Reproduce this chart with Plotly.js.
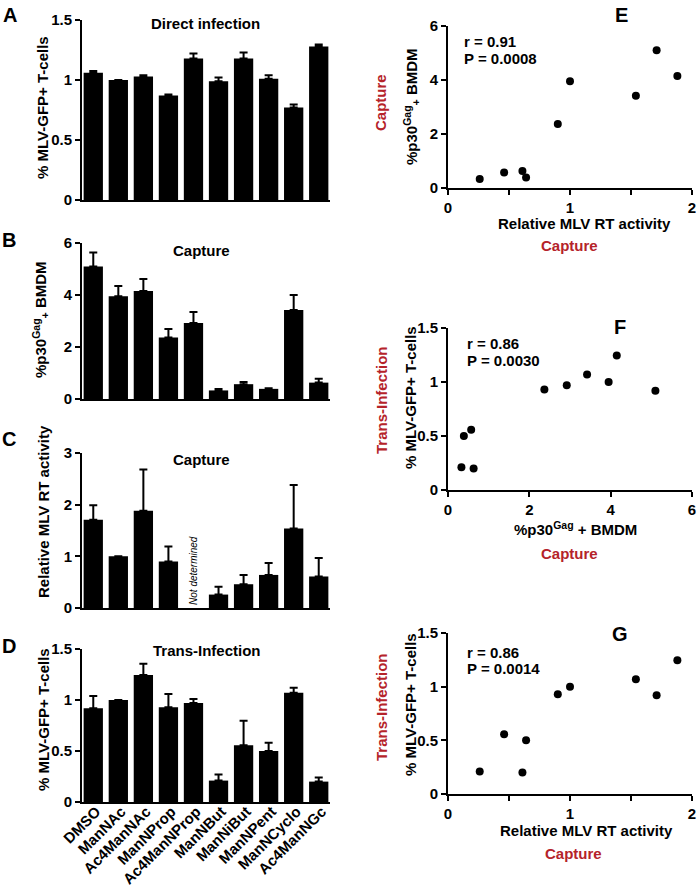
<!DOCTYPE html>
<html>
<head>
<meta charset="utf-8">
<script src="https://cdn.plot.ly/plotly-3.0.1.min.js"></script>
<style>
  html, body { margin: 0; padding: 0; background: #fff; }
  #fig { width: 700px; height: 888px; }
</style>
</head>
<body>
<div id="fig"></div>
<script>
// compuestos (eje x de los paneles A-D)
const categories = ['DMSO', 'ManNAc', 'Ac4ManNAc', 'ManNProp', 'Ac4ManNProp',
                    'ManNBut', 'ManNiBut', 'ManNPent', 'ManNCyclo', 'Ac4ManNGc'];

// A - infeccion directa
const directMean = [1.06, 1.00, 1.03, 0.87, 1.18, 0.99, 1.18, 1.01, 0.77, 1.28];
const directErr  = [0.015, 0, 0.01, 0.01, 0.04, 0.03, 0.05, 0.03, 0.025, 0.015];

// B - captura, %p30Gag+ BMDM
const p30Mean = [5.10, 3.95, 4.15, 2.37, 2.92, 0.33, 0.57, 0.39, 3.42, 0.63];
const p30Err  = [0.53, 0.40, 0.47, 0.32, 0.43, 0.05, 0.08, 0.02, 0.58, 0.15];

// C - captura, actividad RT relativa (Ac4ManNProp no determinado)
const rtMean = [1.71, 1.00, 1.88, 0.90, null, 0.26, 0.46, 0.64, 1.54, 0.61];
const rtErr  = [0.28, 0, 0.80, 0.29, null, 0.15, 0.18, 0.23, 0.84, 0.36];

// D - trans-infeccion
const transMean = [0.92, 1.00, 1.245, 0.93, 0.97, 0.21, 0.557, 0.50, 1.07, 0.20];
const transErr  = [0.12, 0, 0.11, 0.13, 0.04, 0.06, 0.24, 0.08, 0.05, 0.04];

// E-G - correlaciones
const statsE = ['r = 0.91', 'P = 0.0008'];
const statsF = ['r = 0.86', 'P = 0.0030'];
const statsG = ['r = 0.86', 'P = 0.0014'];

const W = 700, H = 888;
const px = x => x / W;
const py = y => 1 - y / H;
const FONT = 'Liberation Sans, Arial, Helvetica, sans-serif';
const RED = '#b5232a';

function barTrace(mean, err, n) {
  return {
    type: 'bar', x: categories, y: mean,
    xaxis: 'x' + n, yaxis: 'y' + n,
    marker: { color: 'black', line: { width: 0 } },
    error_y: {
      type: 'data', symmetric: false, array: err,
      arrayminus: err.map(() => 0),
      color: 'black', thickness: 2, width: 4
    },
    hoverinfo: 'x+y'
  };
}

function dotTrace(xs, ys, n) {
  return {
    type: 'scatter', mode: 'markers', x: xs, y: ys,
    xaxis: 'x' + n, yaxis: 'y' + n,
    marker: { color: 'black', size: 8 },
    cliponaxis: false
  };
}

const tickFont = { family: FONT, size: 15, color: 'black', weight: 'bold' };

function barX(top, bottom, showLabels) {
  return {
    domain: [px(82), px(330)], range: [-0.45, 9.45], type: 'category',
    showline: true, linecolor: 'black', linewidth: 2, ticks: '',
    showgrid: false, zeroline: false, showticklabels: showLabels,
    tickangle: -45, tickfont: tickFont, fixedrange: true
  };
}
function barY(top, bottom, max, vals) {
  return {
    domain: [py(bottom), py(top)], range: [0, max],
    tickvals: vals, ticks: 'outside', ticklen: 5, tickwidth: 2, tickcolor: 'black',
    showline: true, linecolor: 'black', linewidth: 2,
    showgrid: false, zeroline: false, tickfont: tickFont, fixedrange: true
  };
}
function scX(max, vals, text) {
  return {
    domain: [px(448), px(692)], range: [0, max],
    tickvals: vals, ticktext: text, ticks: 'outside', ticklen: 5, tickwidth: 2, tickcolor: 'black',
    showline: true, linecolor: 'black', linewidth: 2,
    showgrid: false, zeroline: false, tickfont: tickFont, fixedrange: true
  };
}

const data = [
  barTrace(directMean, directErr, ''),
  barTrace(p30Mean, p30Err, '2'),
  barTrace(rtMean, rtErr, '3'),
  barTrace(transMean, transErr, '4'),
  dotTrace(rtMean, p30Mean, '5'),
  dotTrace(p30Mean, transMean, '6'),
  dotTrace(rtMean, transMean, '7')
];
data[0].xaxis = 'x'; data[0].yaxis = 'y';

function txt(x, y, text, opts) {
  return Object.assign({
    xref: 'paper', yref: 'paper', x: px(x), y: py(y), text: text,
    showarrow: false, xanchor: 'center', yanchor: 'middle',
    font: { family: FONT, size: 15, color: 'black', weight: 'bold' }
  }, opts || {});
}
const big = { font: { family: FONT, size: 20, color: 'black', weight: 'bold' } };
const rot = { textangle: -90 };
const red = { font: { family: FONT, size: 15, color: RED, weight: 'bold' } };
const redRot = { textangle: -90, font: { family: FONT, size: 15, color: RED, weight: 'bold' } };

const annotations = [
  // letras de panel
  txt(10, 15, 'A', big), txt(9, 240, 'B', big), txt(9, 439, 'C', big), txt(9, 646, 'D', big),
  txt(621, 15, 'E', big), txt(620, 327, 'F', big), txt(620, 634, 'G', big),
  // titulos de panel
  txt(205, 24, 'Direct infection'),
  txt(201, 251, 'Capture'),
  txt(201, 459, 'Capture'),
  txt(207, 650, 'Trans-Infection'),
  // titulos eje y (barras)
  txt(43, 108, '% MLV-GFP+ T-cells', rot),
  txt(40, 320, '%p30<sup>Gag</sup><sub>+</sub> BMDM', rot),
  txt(43, 512, 'Relative MLV RT activity', rot),
  txt(43, 720, '% MLV-GFP+ T-cells', rot),
  // no determinado
  {
    xref: 'x3', yref: 'y3', x: 4, y: 0.02, text: 'Not determined', showarrow: false,
    textangle: -90, xanchor: 'center', yanchor: 'bottom',
    font: { family: FONT, size: 10, color: 'black', style: 'italic', weight: 'normal' }
  },
  // E
  txt(411, 107, '%p30<sup>Gag</sup><sub>+</sub> BMDM', rot),
  txt(381, 103, 'Capture', redRot),
  txt(584, 224, 'Relative MLV RT activity'),
  txt(569, 246, 'Capture', red),
  txt(462, 42, statsE[0], { xanchor: 'left' }),
  txt(462, 58, statsE[1], { xanchor: 'left' }),
  // F
  txt(410, 398, '% MLV-GFP+ T-cells', rot),
  txt(381, 400, 'Trans-Infection', redRot),
  txt(575, 528, '%p30<sup>Gag</sup> + BMDM'),
  txt(569, 553, 'Capture', red),
  txt(465, 343, statsF[0], { xanchor: 'left' }),
  txt(465, 360, statsF[1], { xanchor: 'left' }),
  // G
  txt(410, 705, '% MLV-GFP+ T-cells', rot),
  txt(381, 707, 'Trans-Infection', redRot),
  txt(586, 830, 'Relative MLV RT activity'),
  txt(573, 853, 'Capture', red),
  txt(465, 652, statsG[0], { xanchor: 'left' }),
  txt(465, 668, statsG[1], { xanchor: 'left' })
];

const layout = {
  width: W, height: H,
  margin: { l: 0, r: 0, t: 0, b: 0 },
  paper_bgcolor: 'white', plot_bgcolor: 'white',
  font: { family: FONT, size: 15, color: 'black', weight: 'bold' },
  showlegend: false,
  bargap: 0.23,
  xaxis: barX(20, 200, false),
  yaxis: barY(20, 200, 1.5, [0, 0.5, 1, 1.5]),
  xaxis2: Object.assign(barX(243, 399, false), { anchor: 'y2' }),
  yaxis2: Object.assign(barY(243, 399, 6, [0, 2, 4, 6]), { anchor: 'x2' }),
  xaxis3: Object.assign(barX(453, 608, false), { anchor: 'y3' }),
  yaxis3: Object.assign(barY(453, 608, 3, [0, 1, 2, 3]), { anchor: 'x3' }),
  xaxis4: Object.assign(barX(649, 802, true), { anchor: 'y4', ticklabelstandoff: -7, ticklabelshift: 3 }),
  yaxis4: Object.assign(barY(649, 802, 1.5, [0, 0.5, 1, 1.5]), { anchor: 'x4' }),
  xaxis5: Object.assign(scX(2, [0, 0.5, 1, 1.5, 2], ['0', '', '1', '', '2']), { anchor: 'y5' }),
  yaxis5: Object.assign(barY(26, 188, 6, [0, 2, 4, 6]), { anchor: 'x5' }),
  xaxis6: Object.assign(scX(6, [0, 2, 4, 6], ['0', '2', '4', '6']), { anchor: 'y6' }),
  yaxis6: Object.assign(barY(328, 490, 1.5, [0, 0.5, 1, 1.5]), { anchor: 'x6' }),
  xaxis7: Object.assign(scX(2, [0, 0.5, 1, 1.5, 2], ['0', '', '1', '', '2']), { anchor: 'y7' }),
  yaxis7: Object.assign(barY(633, 794, 1.5, [0, 0.5, 1, 1.5]), { anchor: 'x7' }),
  annotations: annotations
};
layout.yaxis.anchor = 'x';
layout.xaxis.anchor = 'y';

Plotly.newPlot('fig', data, layout, { displayModeBar: false, staticPlot: true });
</script>
</body>
</html>
